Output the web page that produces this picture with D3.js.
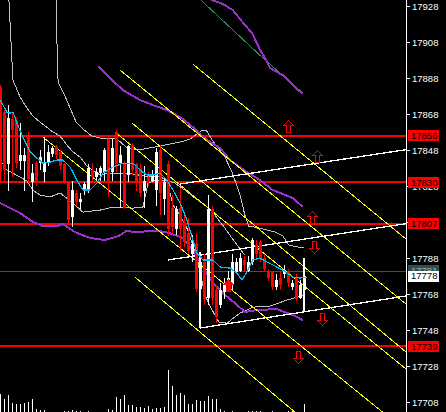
<!DOCTYPE html>
<html><head><meta charset="utf-8">
<script src="https://cdn.jsdelivr.net/npm/d3@7"></script>
<style>html,body{margin:0;padding:0;background:#000;overflow:hidden}</style>
</head><body>
<svg id="c" width="446" height="412"></svg>
<script>
// ---- candle data (index = bar number) ----
const opens  = [17883,17869,17840,17865,17864,17842,17842,17856,17830,17841,17841,17836,17841,17846,17850,17847,17840,17830,17811,17824,17819,17825,17825,17837,17833,17835,17836,17854,17836,17858,17841,17841,17834,17851,17840,17838,17825,17833,17831,17826,17848,17821,17840,17816,17804,17816,17808,17802,17790,17796,17771,17786,17766,17815,17770,17762,17769,17773,17773,17780,17781,17787,17781,17786,17795,17797,17788,17781,17780,17772,17777,17779,17780,17772,17777,17766,17770];
const highs  = [17884,17870,17873,17869,17866,17863,17849,17858,17840,17842,17848,17855,17851,17850,17851,17848,17841,17831,17831,17826,17824,17830,17840,17841,17838,17839,17849,17855,17854,17859,17850,17842,17851,17852,17841,17840,17839,17836,17837,17849,17851,17832,17842,17823,17817,17827,17812,17810,17801,17802,17788,17790,17823,17817,17773,17774,17777,17781,17790,17788,17791,17789,17789,17799,17798,17798,17790,17782,17781,17779,17780,17784,17782,17776,17779,17776,17786];
const lows   = [17831,17831,17825,17833,17838,17837,17825,17831,17819,17828,17837,17830,17839,17844,17843,17837,17829,17807,17805,17817,17815,17823,17824,17831,17831,17831,17831,17822,17831,17836,17816,17815,17830,17834,17825,17822,17816,17828,17830,17817,17812,17812,17800,17802,17801,17792,17794,17790,17786,17769,17762,17762,17762,17762,17752,17760,17765,17769,17770,17779,17780,17781,17780,17784,17788,17786,17781,17775,17770,17770,17770,17777,17772,17770,17764,17765,17765];
const closes = [17836,17837,17866,17859,17841,17845,17845,17832,17835,17830,17844,17841,17847,17849,17845,17839,17831,17809,17826,17819,17821,17829,17838,17833,17836,17838,17848,17830,17849,17840,17845,17816,17850,17837,17831,17824,17831,17830,17834,17847,17824,17830,17804,17805,17815,17804,17797,17792,17796,17771,17786,17765,17815,17766,17755,17770,17774,17777,17786,17786,17788,17784,17786,17798,17790,17788,17782,17777,17772,17776,17773,17781,17774,17774,17765,17773,17778];
const volumes = [180,130,170,90,80,80,90,100,130,30,20,20,0,0,0,0,10,10,20,10,10,0,10,0,0,0,0,30,20,150,130,170,70,70,50,50,40,60,30,40,40,50,420,260,170,190,170,80,80,120,110,110,160,130,130,30,10,0,10,0,0,0,10,10,10,10,0,0,10,0,0,0,10,20,0,0,80];

// ---- axis ----
const priceTicks = [17928,17908,17888,17868,17848,17828,17808,17788,17768,17748,17728,17708];
const levelLines = [17856,17830,17807,17739];
const bidPrice = 17781;
const lastPrice = 17778;

// ---- indicator lines: [bar index, price] ----
const blueMA = [[-0.1,17875.8],[1.6,17869.1],[2.4,17868.5],[3.1,17869.1],[4.1,17863],[5.6,17855.2],[7.4,17846.9],[9.1,17843.5],[10.6,17840.7],[12.4,17841.3],[14.1,17842.4],[15.6,17842.4],[17.4,17838.5],[19.1,17831.3],[20.6,17825.8],[22.4,17825.8],[24.1,17829.6],[25.6,17835.2],[28.1,17838.5],[30.6,17840.7],[33.1,17840.7],[34.9,17836.9],[36.6,17834.1],[38.1,17834.1],[39.9,17835.2],[41.6,17831.3],[43.1,17825.8],[44.9,17818.5],[46.6,17809.1],[48.1,17798],[49.1,17790.7],[50.6,17786.9],[53.1,17786.9],[54.9,17783],[57.4,17782.4],[59.1,17779.6],[60.4,17775.8],[61.6,17780.2],[63.1,17786.9],[64.9,17788],[66.6,17785.8],[68.1,17784.1],[70.6,17781.3],[73.1,17777.4],[74.9,17776.9],[76.6,17777.4]];
const grayA = [[2.1,17931.3],[2.6,17909.1],[3.1,17886.9],[4.9,17877.4],[6.6,17871.3],[8.1,17866.9],[9.9,17863.5],[13.1,17858],[14.9,17855.7],[16.6,17850.7],[18.1,17846.9],[19.9,17844.1],[21.6,17839.1],[24.9,17834.1],[27.4,17835.2],[31.6,17835.2],[36.1,17833.5],[39.9,17833],[43.6,17829.6],[46.1,17825.7],[48.6,17821.3],[51.1,17817.4],[53.6,17811.8],[56.1,17804.6],[58.6,17796.8],[61.1,17789.6]];
const grayB = [[13.9,17931.3],[14.1,17909.1],[14.4,17885.7],[15.9,17879.1],[17.4,17871.3],[18.9,17863.5],[20.9,17859.1],[22.9,17855.7],[24.9,17854.6],[28.9,17854.6],[31.4,17849.6],[34.6,17848],[37.1,17849.1],[39.9,17850.2],[42.4,17851.3],[44.9,17852.4],[47.4,17854.1],[49.4,17857.4],[50.6,17859.1],[51.6,17858.5],[52.9,17853.5],[54.4,17849.1],[56.1,17844.1],[57.9,17835.7],[59.9,17823],[61.1,17811.8],[62.1,17805.7],[64.9,17804.6],[68.6,17802.4],[70.6,17800.2],[72.1,17795.2],[74.4,17794.1],[75.9,17793.5]];
const grayC = [[-0.1,17842.4],[1.6,17836.9],[4.9,17833],[6.6,17830.7],[8.1,17825.7],[9.9,17823],[12.4,17821.9],[14.9,17824.1],[18.1,17818.5],[20.6,17813.5],[24.9,17814.6],[28.1,17816.3],[33.1,17815.7],[35.6,17816.3],[36.9,17829.6],[39.1,17831.3],[41.6,17831.3],[43.1,17817.4],[44.9,17811.8],[46.6,17804.6],[48.1,17795.2],[49.9,17780.2],[51.1,17767.4],[52.9,17759.1],[54.6,17752.4],[56.6,17751.8],[59.9,17757.4],[63.1,17760.7],[67.4,17761.3],[71.6,17764.6],[74.9,17766.8],[75.9,17767.4]];
const purpleTop = [[51.9,17932.4],[52.9,17931.3],[55.6,17929.1],[58.1,17925.7],[61.1,17917.4],[62.9,17913],[64.9,17903.5],[66.1,17899.1],[67.4,17893.5],[69.1,17891.3],[70.6,17889.6],[71.9,17886.9],[73.6,17883],[75.6,17879.1]];
const greenLine = [[50.1,17931.3],[65.6,17899.1],[75.6,17879.6]];
const purpleMid = [[24.4,17894.6],[27.9,17886.9],[30.6,17881.3],[34.9,17875.7],[38.1,17873],[41.6,17870.2],[44.9,17866.3],[48.1,17860.7],[51.6,17853.5],[54.9,17849.1],[57.4,17842.4],[61.6,17835.7],[64.9,17831.3],[68.1,17825.7],[73.1,17821.3],[75.6,17816.3]];
const purpleLow = [[-0.1,17818.5],[2.4,17815.7],[4.9,17813],[8.1,17808],[10.6,17805.7],[14.1,17805.7],[15.6,17806.9],[18.6,17802.4],[22.4,17799.1],[26.1,17798],[29.6,17800.2],[31.4,17803],[33.9,17802.4],[37.4,17803],[39.9,17803],[42.1,17801.9],[45.6,17799.1],[48.1,17792.4],[50.6,17782.9],[53.1,17774.1],[55.6,17768.5],[58.9,17762.4],[61.1,17758],[64.1,17759.1],[69.1,17759.6],[73.1,17756.3],[75.6,17753.5]];

// ---- drawn objects: [bar index, price] ----
const yellowLines = [
  [[48.1,17895.7],[101.4,17798.5]],
  [[29.9,17892.4],[101.4,17762.4]],
  [[32.9,17863.0],[101.4,17735.7]],
  [[28.6,17858.0],[101.4,17726.3]],
  [[10.6,17855.2],[101.4,17691.8]],
  [[33.6,17777.4],[101.4,17650.2]]
];
const whiteLines = [
  [[44.9,17829.1],[101.4,17848.2]],
  [[41.9,17786.9],[101.4,17807.1]],
  [[49.9,17749.1],[101.4,17766.9]],
  [[49.9,17791.3],[49.9,17749.1]],
  [[75.9,17788.0],[75.9,17758.0]]
];
const arrowsUp = [[71.9,17861.3],[79.1,17844.6],[77.9,17810.8]];
const arrowsDown = [[78.4,17794.1],[80.4,17754.1],[74.4,17733.0]];
const filledArrowsUp = [[56.9,17773.0]];

// ---- scales ----
const W = 446, H = 412, plotR = 406;
const x = d3.scaleLinear().domain([0, 100]).range([0.5, 400.5]);
const y = d3.scaleLinear().domain([17928, 17708]).range([6, 402]);
const vy = d3.scaleLinear().domain([0, 420]).range([0, 42]);

const svg = d3.select('#c');
svg.append('rect').attr('width', W).attr('height', H).attr('fill', '#000');
svg.append('defs').append('clipPath').attr('id', 'clip')
  .append('rect').attr('x', 0).attr('y', 0).attr('width', plotR).attr('height', H);
const plot = svg.append('g').attr('clip-path', 'url(#clip)').attr('shape-rendering', 'crispEdges');

// volume
plot.append('g').selectAll('rect').data(volumes.map((v, i) => [i, v]).filter(d => d[1] > 0))
  .join('rect')
  .attr('x', d => Math.floor(x(d[0])))
  .attr('width', 1)
  .attr('y', d => H - Math.round(vy(d[1])))
  .attr('height', d => Math.round(vy(d[1])))
  .attr('fill', '#fff');

const line = d3.line().x(d => x(d[0])).y(d => y(d[1]));
function drawPath(data, color, w) {
  plot.append('path').attr('d', line(data)).attr('fill', 'none')
    .attr('stroke', color).attr('stroke-width', w || 1);
}

// horizontal level lines
levelLines.forEach(v => {
  plot.append('line').attr('x1', 0).attr('x2', plotR)
    .attr('y1', Math.round(y(v))).attr('y2', Math.round(y(v)))
    .attr('stroke', '#ff0000').attr('stroke-width', 2);
});
plot.append('line').attr('x1', 0).attr('x2', plotR)
  .attr('y1', Math.round(y(bidPrice)) + 0.5).attr('y2', Math.round(y(bidPrice)) + 0.5)
  .attr('stroke', '#3a5252').attr('stroke-width', 1);

// indicators
drawPath(grayA, '#c0c0c0');
drawPath(grayB, '#c0c0c0');
drawPath(grayC, '#c0c0c0');
drawPath(greenLine, '#2e8b57');
drawPath(purpleTop, '#9932cc', 2);
drawPath(purpleMid, '#9932cc', 2);
drawPath(purpleLow, '#9932cc', 2);

// yellow channel lines
yellowLines.forEach(l => drawPath(l, '#ffff00'));
// white lines
whiteLines.forEach(l => drawPath(l, '#ffffff', 1.3));

// candles
const cg = plot.append('g');
opens.forEach((o, i) => {
  const c = closes[i], hi = highs[i], lo = lows[i];
  const col = c >= o ? '#ffffff' : '#ff0000';
  const cx = Math.floor(x(i));
  cg.append('rect').attr('x', cx).attr('width', 1)
    .attr('y', Math.round(y(hi))).attr('height', Math.max(1, Math.round(y(lo)) - Math.round(y(hi))))
    .attr('fill', col);
  const top = Math.round(y(Math.max(o, c))), bot = Math.round(y(Math.min(o, c)));
  cg.append('rect').attr('x', cx - 1).attr('width', 3)
    .attr('y', top).attr('height', Math.max(1, bot - top))
    .attr('fill', col);
});

// blue MA on top of candles
drawPath(blueMA, '#00bfff', 1.2);

// arrows
const upShape = 'M0,-6 L5,-1 L2,-1 L2,6 L-2,6 L-2,-1 L-5,-1 Z';
const downShape = 'M0,6 L5,1 L2,1 L2,-6 L-2,-6 L-2,1 L-5,1 Z';
arrowsUp.forEach(d => plot.append('path').attr('d', upShape)
  .attr('transform', `translate(${Math.round(x(d[0]))+0.5},${Math.round(y(d[1]))+0.5})`)
  .attr('fill', '#000').attr('stroke', '#ff0000').attr('stroke-width', 1));
arrowsDown.forEach(d => plot.append('path').attr('d', downShape)
  .attr('transform', `translate(${Math.round(x(d[0]))+0.5},${Math.round(y(d[1]))+0.5})`)
  .attr('fill', '#000').attr('stroke', '#ff0000').attr('stroke-width', 1));
filledArrowsUp.forEach(d => plot.append('path').attr('d', upShape)
  .attr('transform', `translate(${Math.round(x(d[0]))+0.5},${Math.round(y(d[1]))+0.5})`)
  .attr('fill', '#ff0000').attr('stroke', '#ff0000').attr('stroke-width', 1));

// axis
const ax = svg.append('g');
ax.append('line').attr('x1', plotR + 0.5).attr('x2', plotR + 0.5).attr('y1', 0).attr('y2', H)
  .attr('stroke', '#fff').attr('stroke-width', 1);
const fontFam = "'Liberation Sans', Arial, sans-serif";
priceTicks.forEach(v => {
  const yy = Math.round(y(v)) + 0.5;
  ax.append('line').attr('x1', plotR).attr('x2', plotR + 4).attr('y1', yy).attr('y2', yy)
    .attr('stroke', '#fff');
  ax.append('text').attr('x', 412).attr('y', yy).attr('dy', '0.36em')
    .attr('fill', '#fff').attr('font-family', fontFam).attr('font-size', 9.5)
    .text(String(v));
});

function labelBox(v, bg, fg) {
  const yy = y(v);
  ax.append('rect').attr('x', 408).attr('y', Math.round(yy - 5.5)).attr('width', 31).attr('height', 11)
    .attr('fill', bg);
  ax.append('text').attr('x', 411).attr('y', yy).attr('dy', '0.36em')
    .attr('fill', fg).attr('font-family', fontFam).attr('font-size', 9.5)
    .text(String(v));
}
levelLines.forEach(v => labelBox(v, '#ff0000', '#000'));
labelBox(bidPrice, '#2f4f4f', '#aaaaaa');
labelBox(lastPrice, '#ffffff', '#000');
</script>
</body></html>
